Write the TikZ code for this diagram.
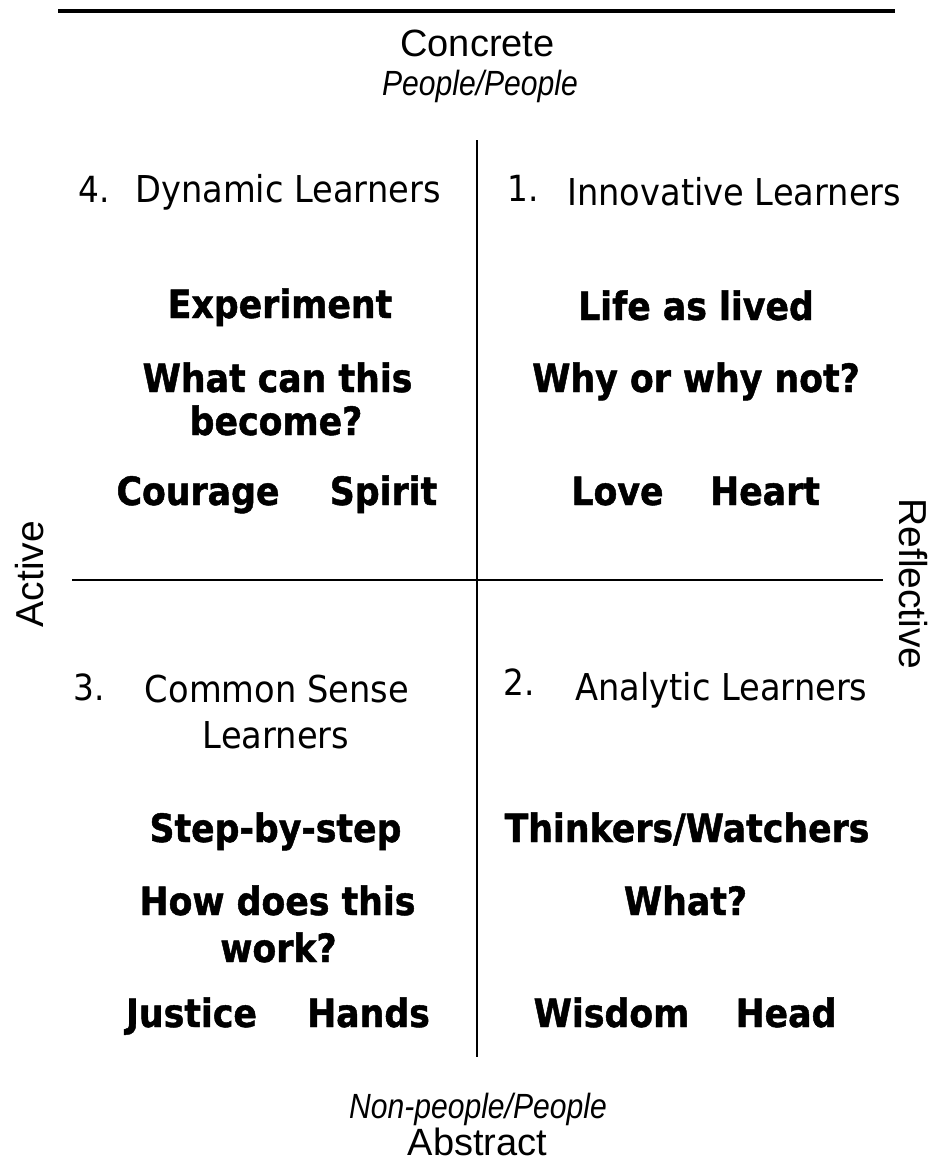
\documentclass[tikz,border=0pt]{standalone}
\usepackage{fontspec}
\newfontfamily\tah[FakeStretch=0.91]{DejaVu Sans}
\newfontfamily\tahb[FakeStretch=0.89,BoldFeatures={FakeBold=1.2}]{DejaVu Sans}
\newfontfamily\ari{Liberation Sans}
\newfontfamily\arin[FakeStretch=0.86]{Liberation Sans}
\tikzset{
  qlabel/.style={anchor=base west, inner sep=0pt, font=\tah\fontsize{37}{44}\selectfont},
  qnum/.style={anchor=base west, inner sep=0pt, font=\tah\fontsize{36}{44}\selectfont},
  qcenter/.style={anchor=base, inner sep=0pt, font=\tah\fontsize{37}{44}\selectfont},
  key/.style={anchor=base, inner sep=0pt, font=\tahb\bfseries\fontsize{39}{46}\selectfont},
  axis/.style={anchor=base, inner sep=0pt, font=\ari\fontsize{38}{45}\selectfont},
  axisit/.style={anchor=base, inner sep=0pt, font=\arin\itshape\fontsize{35}{42}\selectfont},
  side/.style={anchor=base, inner sep=0pt, font=\ari\fontsize{39}{46}\selectfont},
  rule/.style={line width=2pt, black},
  toprule/.style={line width=4pt, black}
}
\begin{document}
\begin{tikzpicture}[x=1pt,y=-1pt]
\useasboundingbox (0,0) rectangle (940,1165);
% top bar
\coordinate (tl) at (58,11);
\coordinate (tr) at (895,11);
\draw[toprule] (tl) -- (tr);
% axes
\coordinate (vt) at (477,140);
\coordinate (vb) at (477,1057);
\coordinate (hl) at (72,580);
\coordinate (hr) at (883,580);
\draw[rule] (vt) -- (vb);
\draw[rule] (hl) -- (hr);
% axis labels
\node[axis] (concrete) at (477.5,56) {Concrete};
\node[axisit] (pp) at (480,95) {People/People};
\node[axisit] (npp) at (478,1118) {Non-people/People};
\node[axis] (abstract) at (477.5,1155) {Abstract};
\node[side, rotate=90] (active) at (43,574) {Active};
\node[side, rotate=-90] (reflective) at (899,584) {Reflective};
% quadrant 4
\node[qnum] (n4) at (78,202) {4.};
\node[qlabel] (dyn) at (135,202) {Dynamic Learners};
\node[key] (exp) at (280,318) {Experiment};
\node[key] (what1) at (277.5,392) {What can this};
\node[key] (what2) at (276,435) {become?};
\node[key] (courage) at (198,505) {Courage};
\node[key] (spirit) at (383.5,505) {Spirit};
% quadrant 1
\node[qnum] (n1) at (507,201) {1.};
\node[qlabel] (inn) at (567,205) {Innovative Learners};
\node[key] (life) at (696,320) {Life as lived};
\node[key] (why) at (696,392) {Why or why not?};
\node[key] (love) at (617.5,505) {Love};
\node[key] (heart) at (765,505) {Heart};
% quadrant 3
\node[qnum] (n3) at (73,700) {3.};
\node[qcenter] (cs1) at (277,702) {Common Sense};
\node[qcenter] (cs2) at (276,748) {Learners};
\node[key] (step) at (275.5,842) {Step-by-step};
\node[key] (how1) at (277.5,915) {How does this};
\node[key] (how2) at (278.5,962) {work?};
\node[key] (justice) at (191.5,1027) {Justice};
\node[key] (hands) at (368.5,1027) {Hands};
% quadrant 2
\node[qnum] (n2) at (503,695) {2.};
\node[qlabel] (ana) at (575,700) {Analytic Learners};
\node[key] (think) at (687,842) {Thinkers/Watchers};
\node[key] (whatq) at (685.5,915) {What?};
\node[key] (wisdom) at (611.5,1027) {Wisdom};
\node[key] (head) at (786,1027) {Head};
\end{tikzpicture}
\end{document}
